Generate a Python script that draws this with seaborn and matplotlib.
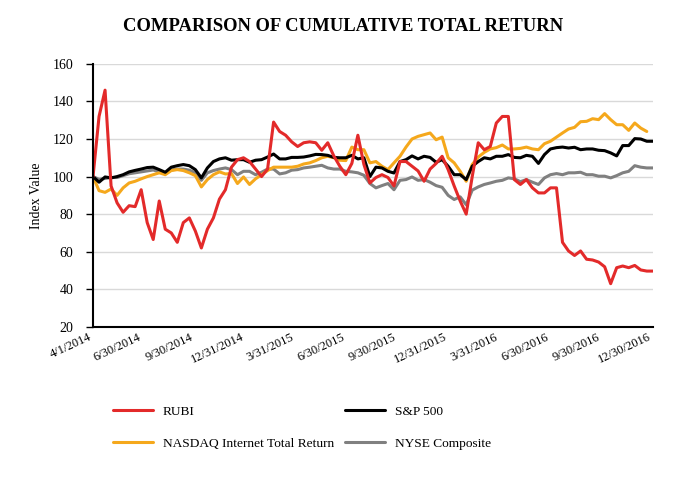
import numpy as np
import pandas as pd
import seaborn as sns
import matplotlib.pyplot as plt

# roughly every 11 days, 4/1/2014 .. 12/30/2016
dates = pd.date_range("2014-04-01", "2016-12-30", periods=94)

rubi = [100, 132, 146, 95, 86, 81, 84.5, 84, 93, 75.5, 66.5, 87, 72, 70, 65, 75.5,
        78, 71, 62, 72, 78, 88, 93, 105, 109, 110, 108, 104, 100, 104, 129, 124,
        122, 118.5, 116, 118, 118.5, 118, 114, 118, 111, 105.5, 101, 107, 122, 106.5, 96.6,
        99.5, 101, 99.5, 95, 108, 108, 105.5, 103, 97.5, 104, 107, 110.8, 103.7, 95, 87, 80,
        100, 118, 114.3, 116, 128.5, 132, 132, 98.4, 95.8, 98.4, 94, 91.3, 91.3, 94, 94,
        65, 60.4, 58, 60.4, 56, 55.6, 54.5, 52, 43, 51.5, 52.4, 51.5, 52.7, 50.3, 49.7, 49.7]

sp500 = [100, 97, 99.8, 99.3, 100, 101, 102.5, 103.3, 104, 104.8, 105, 103.7, 102.3, 105, 105.8, 106.4,
         105.8, 103.7, 99.3, 104.6, 108, 109.4, 110, 108.7, 109, 109, 107.6, 108.7, 109, 110.4, 112, 109.4,
         109.4, 110.2, 110.2, 110.4, 111, 111.8, 111.7, 111.3, 110.2, 110, 110, 111.3, 109.4, 110, 100,
         105, 104.6, 102.8, 101.9, 108, 109, 111, 109.4, 110.8, 110.2, 107.6, 109, 105.5, 101, 101, 98.4,
         105.5, 108, 110, 109.4, 110.8, 110.8, 111.7, 110.2, 110, 111.3, 110.8, 107, 111.7, 114.7, 115.4,
         115.7, 115.2, 115.6, 114.3, 114.7, 114.7, 114, 113.8, 112.6, 111, 116.5, 116.5, 120.2, 120, 118.8, 118.8]

nasdaq = [100, 92.5, 91.6, 93.4, 90, 94, 96.6, 97.5, 98.8, 100, 101, 102, 101, 103.2, 103.7, 103.2,
          102, 100.5, 94.5, 98.4, 101, 102.5, 101.4, 101.6, 96.3, 99.8, 95.8, 98.8, 101, 103.2, 105, 105,
          105, 105, 105.5, 106.7, 107.3, 108.5, 110, 110.8, 110, 108.7, 108.5, 115.7, 114.3, 114.3, 107.3,
          108, 105.5, 103.7, 107.3, 110.8, 115.7, 120, 121.4, 122.3, 123.2, 119.6, 121, 110, 107.3, 102.8, 97.5,
          106.4, 110.4, 112.9, 114.7, 115.4, 116.8, 114.7, 114.7, 115, 115.7, 114.7, 114.3, 117.5, 118.8, 121,
          123.2, 125.3, 126.2, 129.2, 129.4, 130.8, 130.3, 133.5, 130.3, 127.6, 127.6, 124.6, 128.5, 125.8, 124, np.nan]

nyse = [100, 98.5, 99, 99.5, 99.5, 100.5, 101.5, 102, 102.5, 103, 103.5, 102.5, 101.5, 103.5, 104, 104,
        103.4, 102, 98, 102, 103.2, 104, 104.6, 103.7, 101, 102.8, 102.8, 101, 102.3, 104, 104, 101.4,
        102, 103.4, 103.7, 104.6, 105, 105.5, 106, 104.6, 104, 104, 102.8, 102.5, 102, 100.7, 96.3,
        94, 95.2, 96.3, 93, 98, 98.4, 99.8, 98, 98.4, 97, 95.2, 94.3, 90, 87.8, 89.2, 85,
        92.8, 94.5, 95.8, 96.6, 97.5, 98, 99.3, 98.8, 97.3, 98.4, 97, 95.8, 99.3, 101, 101.6,
        101, 102, 102, 102.3, 101, 101, 100.2, 100.2, 99.3, 100.5, 102, 102.8, 105.8, 105, 104.6, 104.6]

tick_dates = ["2014-04-01", "2014-06-30", "2014-09-30", "2014-12-31", "2015-03-31", "2015-06-30",
              "2015-09-30", "2015-12-31", "2016-03-31", "2016-06-30", "2016-09-30", "2016-12-30"]
tick_labels = ["4/1/2014", "6/30/2014", "9/30/2014", "12/31/2014", "3/31/2015", "6/30/2015",
               "9/30/2015", "12/31/2015", "3/31/2016", "6/30/2016", "9/30/2016", "12/30/2016"]

sns.set_style("white")
plt.rcParams["font.family"] = ["Liberation Serif", "DejaVu Serif"]
plt.rcParams["text.color"] = "black"
plt.rcParams["axes.labelcolor"] = "black"
plt.rcParams["xtick.color"] = "black"
plt.rcParams["ytick.color"] = "black"

fig = plt.figure(figsize=(6.86, 4.80), dpi=100)
ax = fig.add_axes([0.1356, 0.319, 0.816, 0.548])

series = [
    ("NYSE Composite", nyse, "#808080"),
    ("NASDAQ Internet Total Return", nasdaq, "#F5A81C"),
    ("S&P 500", sp500, "#000000"),
    ("RUBI", rubi, "#E32A2A"),
]
lines = {}
for name, vals, col in series:
    df = pd.DataFrame({"date": dates, "value": vals})
    sns.lineplot(data=df, x="date", y="value", color=col, linewidth=2.2, ax=ax)
    lines[name] = ax.lines[-1]

ax.set_ylim(20, 160)
ax.set_yticks(range(20, 161, 20))
ax.set_xlim(pd.Timestamp("2014-04-01"), pd.Timestamp("2016-12-30"))
ax.set_xticks(pd.to_datetime(tick_dates))
ax.set_xticklabels(tick_labels, rotation=25, ha="right", fontsize=9)
ax.tick_params(axis="x", length=0, pad=3)
ax.tick_params(axis="y", length=5, width=1, direction="out", labelsize=10, pad=9, left=True)
ax.set_xlabel("")
ax.set_ylabel("Index Value", fontsize=10, labelpad=7)
ax.yaxis.grid(True, color="#D9D9D9", linewidth=1)
for s in ["top", "right"]:
    ax.spines[s].set_visible(False)
for s in ["left", "bottom"]:
    ax.spines[s].set_color("black")
    ax.spines[s].set_linewidth(1.5)

fig.suptitle("COMPARISON OF CUMULATIVE TOTAL RETURN", fontsize=13.4, fontweight="bold", y=0.962)

order = ["RUBI", "NASDAQ Internet Total Return", "S&P 500", "NYSE Composite"]
fig.legend([lines[n] for n in order], order, ncol=2, loc="upper left",
           bbox_to_anchor=(0.1647, 0.155), frameon=False, fontsize=9.6,
           handlelength=3.0, handletextpad=0.75, columnspacing=0.8, labelspacing=1.45,
           borderpad=0, borderaxespad=0)

fig.savefig("out.png", dpi=100)
